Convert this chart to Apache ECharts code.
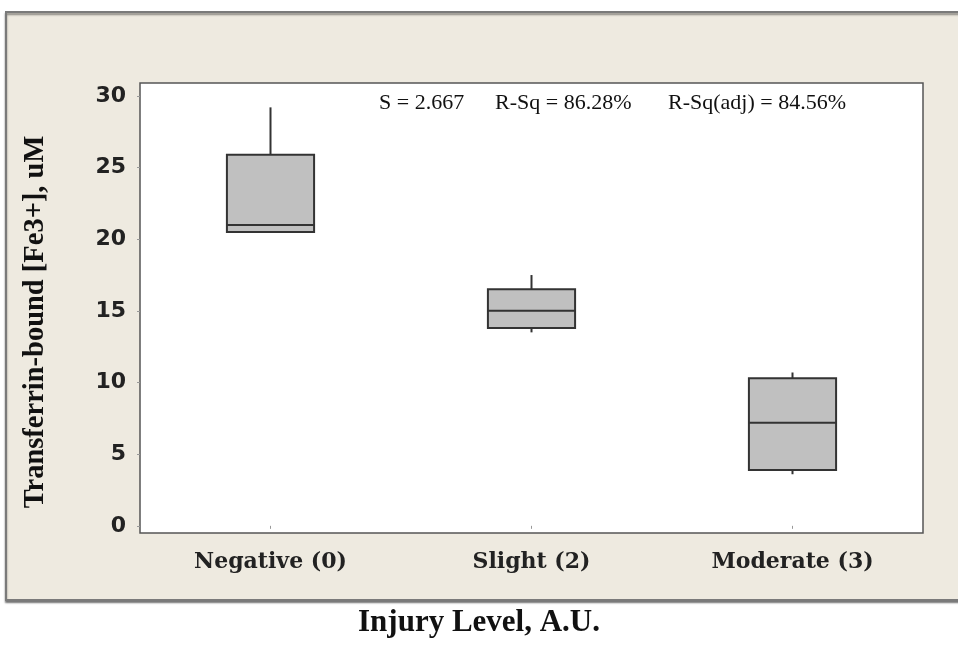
<!DOCTYPE html>
<html><head><meta charset="utf-8">
<script src="https://cdn.jsdelivr.net/npm/echarts@6/dist/echarts.min.js"></script>
<style>html,body{margin:0;padding:0;background:#fff}#c{width:958px;height:650px}</style>
</head><body><div id="c"></div>
<script>
const categories = ['Negative (0)', 'Slight (2)', 'Moderate (3)'];
const minVals    = [20.5, 13.5, 3.6];
const q1Vals     = [20.5, 13.8, 3.9];
const medianVals = [21.0, 15.0, 7.2];
const q3Vals     = [25.9, 16.5, 10.3];
const maxVals    = [29.2, 17.5, 10.7];
const statsParts = ['S = 2.667', 'R-Sq = 86.28%', 'R-Sq(adj) = 84.56%'];
const yAxisTitle = 'Transferrin-bound [Fe3+], uM';
const xAxisTitle = 'Injury Level, A.U.';

const boxData = categories.map((c, i) => [i, minVals[i], q1Vals[i], medianVals[i], q3Vals[i], maxVals[i]]);
const statsLeft = [379, 495, 668];

const chart = echarts.init(document.getElementById('c'), null, {renderer: 'canvas'});
chart.setOption({
  backgroundColor: '#ffffff',
  animation: false,
  title: {
    text: xAxisTitle, left: 'center', top: 602,
    textStyle: {fontFamily: 'Liberation Serif', fontWeight: 'bold', fontSize: 31, color: '#111'}
  },
  graphic: [
    {type: 'rect', z: -100, left: 5, top: 11,
     shape: {width: 970, height: 588},
     style: {fill: '#EEEAE0', stroke: '#7a7a7a', lineWidth: 2,
             shadowColor: 'rgba(0,0,0,0.45)', shadowOffsetY: 2, shadowBlur: 2}}
  ].concat(statsParts.map((t, i) => ({
     type: 'text', z: 100, left: statsLeft[i], top: 92,
     style: {text: t, fontFamily: 'Liberation Serif', fontSize: 22, fill: '#111'}}))),
  grid: {left: 140, right: 35, top: 83, bottom: 117, show: true,
         backgroundColor: '#ffffff', borderColor: '#555', borderWidth: 1.5},
  xAxis: {
    type: 'category', data: categories, boundaryGap: true,
    axisLine: {show: false}, axisTick: {show: true, alignWithLabel: true, length: 3, lineStyle: {color: '#999'}},
    axisLabel: {margin: 18, fontFamily: 'DejaVu Serif', fontSize: 22, fontWeight: 'bold', color: '#222'},
    splitLine: {show: false}
  },
  yAxis: {
    type: 'value', min: -0.5, max: 30.9, splitNumber: 6,
    name: yAxisTitle, nameLocation: 'middle', nameGap: 90, nameRotate: 90,
    nameTextStyle: {fontFamily: 'Liberation Serif', fontWeight: 'bold', fontSize: 28.5, color: '#111',
                    padding: [0, 28, 0, 0]},
    axisLine: {show: false},
    axisTick: {show: true, length: 3, lineStyle: {color: '#999'}},
    axisLabel: {showMinLabel: false, showMaxLabel: false, margin: 14,
                fontFamily: 'DejaVu Sans', fontSize: 22, fontWeight: 'bold', color: '#222',
                formatter: v => (Math.abs(v % 5) < 1e-9 ? String(v) : '')},
    splitLine: {show: false}
  },
  series: [{
    type: 'custom',
    data: boxData,
    encode: {x: 0, y: [1, 2, 3, 4, 5]},
    renderItem: function (params, api) {
      const ci = api.value(0);
      const pMin = api.coord([ci, api.value(1)]);
      const pQ1 = api.coord([ci, api.value(2)]);
      const pMed = api.coord([ci, api.value(3)]);
      const pQ3 = api.coord([ci, api.value(4)]);
      const pMax = api.coord([ci, api.value(5)]);
      const bw = api.size([1, 0])[0] * 0.334;
      const cx = pMed[0];
      const lineStyle = {stroke: '#333', lineWidth: 2, fill: null};
      return {
        type: 'group',
        children: [
          {type: 'line', shape: {x1: cx, y1: pQ3[1], x2: cx, y2: pMax[1]}, style: lineStyle},
          {type: 'line', shape: {x1: cx, y1: pQ1[1], x2: cx, y2: pMin[1]}, style: lineStyle},
          {type: 'rect', shape: {x: cx - bw / 2, y: pQ3[1], width: bw, height: pQ1[1] - pQ3[1]},
           style: {fill: '#C0C0C0', stroke: '#333', lineWidth: 2}},
          {type: 'line', shape: {x1: cx - bw / 2, y1: pMed[1], x2: cx + bw / 2, y2: pMed[1]}, style: lineStyle}
        ]
      };
    }
  }]
});
</script></body></html>
